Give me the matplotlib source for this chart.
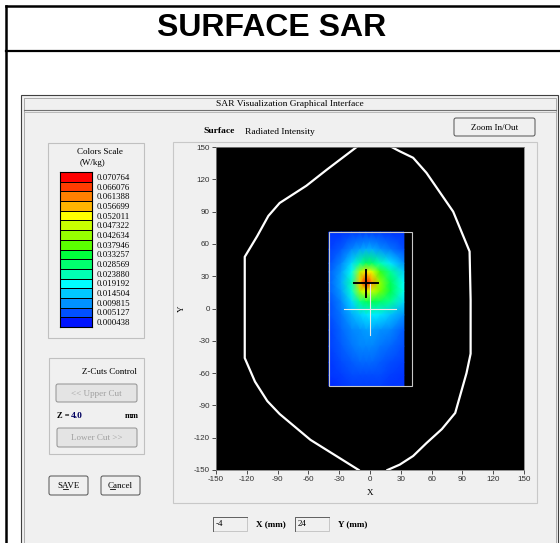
import numpy as np
import matplotlib
matplotlib.use('Agg')
import matplotlib.pyplot as plt
from matplotlib.colors import LinearSegmentedColormap, Normalize
from matplotlib.patches import Rectangle, FancyBboxPatch

plt.rcParams['axes.unicode_minus'] = False

W, H = 560, 543
gui_font = 'Liberation Serif'

# colour scale (W/kg), top to bottom, with the colour of each level
scale_values = [0.070764, 0.066076, 0.061388, 0.056699, 0.052011, 0.047322,
                0.042634, 0.037946, 0.033257, 0.028569, 0.023880, 0.019192,
                0.014504, 0.009815, 0.005127, 0.000438]
scale_colors = ['#ff0000', '#ff3c00', '#ff8000', '#ffb400', '#ffff00', '#c8ff00',
                '#96ff00', '#5aff00', '#00ff3c', '#00ff6e', '#00ffb4', '#00ffff',
                '#00c8ff', '#0091ff', '#0050ff', '#0014ff']

# measured SAR on the scan area (W/kg), rows from top (y=71) to bottom (y=-72)
grid_x = [-40, -28, -18, -10, -4, 2, 10, 20, 33]
grid_y = [71, 55, 42, 34, 24, 16, 6, -6, -20, -35, -50, -62, -72]
sar = [
    [0.003, 0.003, 0.004, 0.004, 0.004, 0.004, 0.004, 0.003, 0.003],
    [0.004, 0.006, 0.009, 0.011, 0.012, 0.012, 0.010, 0.008, 0.005],
    [0.005, 0.009, 0.016, 0.025, 0.030, 0.029, 0.024, 0.017, 0.010],
    [0.006, 0.011, 0.020, 0.045, 0.054, 0.050, 0.036, 0.026, 0.015],
    [0.006, 0.012, 0.024, 0.056, 0.070, 0.060, 0.042, 0.031, 0.019],
    [0.006, 0.011, 0.022, 0.044, 0.050, 0.047, 0.040, 0.032, 0.020],
    [0.005, 0.009, 0.016, 0.026, 0.030, 0.031, 0.029, 0.026, 0.016],
    [0.005, 0.008, 0.012, 0.015, 0.017, 0.018, 0.017, 0.014, 0.010],
    [0.004, 0.007, 0.009, 0.010, 0.011, 0.011, 0.010, 0.009, 0.006],
    [0.004, 0.006, 0.008, 0.009, 0.009, 0.009, 0.008, 0.007, 0.005],
    [0.003, 0.005, 0.006, 0.007, 0.007, 0.007, 0.006, 0.005, 0.004],
    [0.003, 0.004, 0.005, 0.005, 0.005, 0.005, 0.005, 0.004, 0.003],
    [0.002, 0.003, 0.004, 0.004, 0.004, 0.004, 0.004, 0.003, 0.003],
]
scan_x = [-40, 40.5]
scan_y = [-72, 71]

# phantom outline (mm), left and right halves
head_left_x = [-13, -42, -62, -88, -99, -110, -122, -122, -112, -100, -88, -58, -11]
head_left_y = [150, 129, 114, 98, 86, 67, 48, -46, -68, -86, -98, -122, -150]
head_right_x = [17, 29, 42, 55, 70, 83, 94, 98, 98, 97, 81, 68, 55, 42, 29, 21]
head_right_y = [-150, -145, -137, -125, -112, -97, -60, -42, 8, 53, 90, 108, 126, 140, 146, 150]

peak_x, peak_y = -4, 24
z_cut = 4.0
ticks = [-150, -120, -90, -60, -30, 0, 30, 60, 90, 120, 150]

vmin, vmax = min(scale_values), max(scale_values)
pos = [(v - vmin) / (vmax - vmin) for v in scale_values[::-1]]
cmap = LinearSegmentedColormap.from_list('sar', list(zip(pos, scale_colors[::-1])))
norm = Normalize(vmin, vmax)

fig = plt.figure(figsize=(W / 100, H / 100), dpi=100, facecolor='white')


def px_axes(x0, y0, x1, y1):
    return fig.add_axes([x0 / W, 1 - y1 / H, (x1 - x0) / W, (y1 - y0) / H])


bg = fig.add_axes([0, 0, 1, 1])
bg.set_xlim(0, W)
bg.set_ylim(H, 0)
bg.axis('off')

# page frame and title
bg.plot([6, 6], [6, H], color='black', lw=1.8)
bg.plot([6, W], [6, 6], color='black', lw=1.8)
bg.plot([6, W], [51, 51], color='black', lw=1.6)
bg.text(272, 28, 'SURFACE SAR', ha='center', va='center', fontsize=23,
        fontweight='bold', family='Liberation Sans')

# window
bg.add_patch(Rectangle((21, 95), 537, 460, facecolor='#f0f0f0', edgecolor='#404040', lw=0.8))
bg.add_patch(Rectangle((23.5, 97.5), 532, 460, facecolor='none', edgecolor='#a0a0a0', lw=0.6))
bg.plot([23.5, 555.5], [110, 110], color='#707070', lw=0.8)
bg.plot([23.5, 555.5], [111.5, 111.5], color='#b0b0b0', lw=0.6)
bg.text(290, 104.5, 'SAR Visualization Graphical Interface', ha='center', va='center',
        fontsize=6.8, family=gui_font)


def button(x0, y0, x1, y1, label, color='black', face='#f0f0f0', edge='#505050'):
    bg.add_patch(FancyBboxPatch((x0, y0), x1 - x0, y1 - y0,
                                boxstyle='round,pad=0,rounding_size=2',
                                facecolor=face, edgecolor=edge, lw=0.7))
    bg.text((x0 + x1) / 2, (y0 + y1) / 2 + 0.5, label, ha='center', va='center',
            fontsize=6.5, family=gui_font, color=color)


# colour scale panel
bg.add_patch(Rectangle((48, 143), 96, 195, facecolor='#f0f0f0', edgecolor='#c0c0c0', lw=0.8))
bg.text(100, 152, 'Colors Scale', ha='center', va='center', fontsize=6.5, family=gui_font)
bg.text(92.5, 163, '(W/kg)', ha='center', va='center', fontsize=6.5, family=gui_font)

cs = px_axes(60, 172, 92, 327)
n = len(scale_values)
cs.pcolormesh([0, 1], np.arange(n + 1), np.array(scale_values[::-1]).reshape(n, 1),
              cmap=cmap, norm=norm, edgecolors='black', linewidth=0.7)
cs.set_xlim(0, 1)
cs.set_ylim(0, n)
cs.set_xticks([])
cs.yaxis.tick_right()
cs.set_yticks(np.arange(n) + 0.5)
cs.set_yticklabels([f'{v:.6f}' for v in scale_values[::-1]], fontsize=6.3, family=gui_font)
cs.tick_params(axis='y', length=0, pad=3.5)
for s in cs.spines.values():
    s.set_color('black')
    s.set_linewidth(0.8)

# z-cuts panel
bg.add_patch(Rectangle((49, 358), 95, 96, facecolor='#f0f0f0', edgecolor='#c0c0c0', lw=0.8))
bg.text(137, 372, 'Z-Cuts Control', ha='right', va='center', fontsize=6.5, family=gui_font)
button(56, 384, 137, 402, '<< Upper Cut', color='#a0a0a0', face='#e4e4e4', edge='#909090')
bg.text(57, 415.5, 'Z =', ha='left', va='center', fontsize=6, family=gui_font, fontweight='bold')
bg.text(71, 415.5, f'{z_cut:.1f}', ha='left', va='center', fontsize=6.8, family=gui_font,
        fontweight='bold', color='#000060')
bg.text(125, 415.5, 'mm', ha='left', va='center', fontsize=6, family=gui_font, fontweight='bold')
button(57, 428, 137, 447, 'Lower Cut >>', color='#a0a0a0', face='#e4e4e4', edge='#909090')

button(49, 476, 88, 495, 'SAVE')
button(101, 476, 140, 495, 'Cancel')
bg.plot([63, 67.5], [489, 489], color='black', lw=0.6)
bg.plot([110, 114.5], [489, 489], color='black', lw=0.6)

# plot panel
bg.add_patch(Rectangle((173, 142), 364, 361, facecolor='#f0f0f0', edgecolor='#c8c8c8', lw=0.8))
bg.text(203, 131, 'Surface', ha='left', va='center', fontsize=6.8, family=gui_font, fontweight='bold')
bg.text(245, 131.5, 'Radiated Intensity', ha='left', va='center', fontsize=6.8, family=gui_font)
button(454, 118, 535, 136, 'Zoom In/Out')

ax = px_axes(216, 147, 524, 470)
ax.set_facecolor('black')
ax.pcolormesh(grid_x, grid_y, np.array(sar), shading='gouraud', cmap=cmap, norm=norm)
ax.add_patch(Rectangle((scan_x[0], scan_y[0]), scan_x[1] - scan_x[0], scan_y[1] - scan_y[0],
                       fill=False, edgecolor='#c8c8c8', lw=0.8))
ax.plot(head_left_x, head_left_y, color='white', lw=1.6)
ax.plot(head_right_x, head_right_y, color='white', lw=1.6)
# white cross at origin, black cross at peak
ax.plot([-25, 25], [0, 0], color='#e8e8e8', lw=0.8)
ax.plot([0, 0], [-25, 25], color='#e8e8e8', lw=0.8)
ax.plot([peak_x - 12, peak_x + 12], [peak_y, peak_y], color='black', lw=1.4)
ax.plot([peak_x, peak_x], [peak_y - 13, peak_y + 12], color='black', lw=1.4)
ax.set_xlim(-150, 150)
ax.set_ylim(-150, 150)
ax.set_xticks(ticks)
ax.set_yticks(ticks)
ax.tick_params(labelsize=5.8, colors='#303030', length=3, width=0.6, pad=1.5)
for lab in ax.get_xticklabels() + ax.get_yticklabels():
    lab.set_family('Liberation Sans')
for s in ax.spines.values():
    s.set_color('#808080')
    s.set_linewidth(0.6)
ax.set_xlabel('X', fontsize=6.5, family=gui_font)
ax.set_ylabel('Y', fontsize=6.5, family=gui_font)
ax.xaxis.set_label_coords(0.5, -0.058)
ax.yaxis.set_label_coords(-0.098, 0.5)

# bottom read-outs
for x0, val, lab in [(213, peak_x, 'X (mm)'), (295, peak_y, 'Y (mm)')]:
    bg.add_patch(Rectangle((x0, 517), 34, 14, facecolor='#f0f0f0', edgecolor='#c0c0c0', lw=0.6))
    bg.plot([x0, x0, x0 + 34], [531, 517, 517], color='#606060', lw=0.7)
    bg.text(x0 + 2.5, 524.5, f'{val}', ha='left', va='center', fontsize=6.5, family=gui_font)
    bg.text(x0 + 43, 524, lab, ha='left', va='center', fontsize=6.5, family=gui_font,
            fontweight='bold')

fig.savefig('out.png', dpi=100, facecolor='white')
